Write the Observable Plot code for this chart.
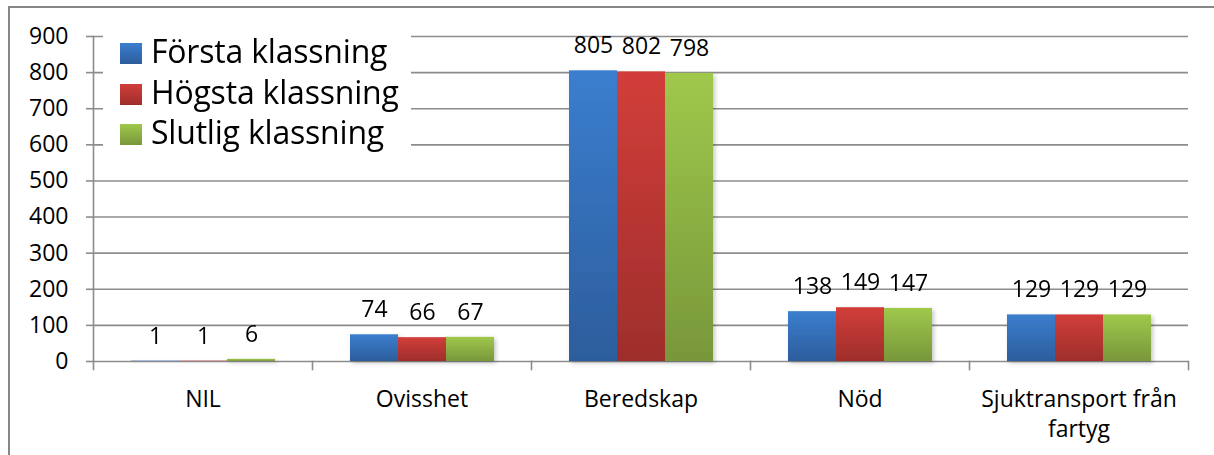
<!DOCTYPE html>
<html>
<head>
<meta charset="utf-8">
<script src="https://cdn.jsdelivr.net/npm/d3@7"></script>
<script src="https://cdn.jsdelivr.net/npm/@observablehq/plot@0.6"></script>
<style>
  html, body { margin: 0; padding: 0; background: #fff; }
  #wrap { position: relative; width: 1214px; height: 455px; overflow: hidden; font-family: 'Open Sans', sans-serif; }
  #frame { position: absolute; left: 8px; top: 6px; width: 1300px; height: 600px;
           border-left: 2px solid #878787; border-top: 2px solid #878787; pointer-events: none; z-index: 3; }
  #legend { position: absolute; left: 103px; top: 30px; width: 308px; height: 136px; background: #fff; z-index: 2; }
  .row { display: flex; align-items: center; height: 40.7px; }
  .sw { width: 22px; height: 21px; margin-left: 17px; margin-right: 9px; margin-top: 6px; }
  .lab { font-size: 32px; color: #000; white-space: nowrap; letter-spacing: -0.2px; }
</style>
</head>
<body>
<div id="wrap">
  <div id="frame"></div>
  <div id="legend"></div>
  <div id="chart"></div>
</div>
<script>
const categories = ["NIL", "Ovisshet", "Beredskap", "Nöd", "Sjuktransport från fartyg"];
const categoryLabels = ["NIL", "Ovisshet", "Beredskap", "Nöd", "Sjuktransport från\nfartyg"];
const series = ["Första klassning", "Högsta klassning", "Slutlig klassning"];
const forsta = [1, 74, 805, 138, 129];
const hogsta = [1, 66, 802, 149, 129];
const slutlig = [6, 67, 798, 147, 129];
const yTicks = [0, 100, 200, 300, 400, 500, 600, 700, 800, 900];

const gradTop = ["#3b7ecf", "#d23e3a", "#9fc84c"];
const gradBottom = ["#2c5d9c", "#9e2e2b", "#78973a"];

const valuesBySeries = [forsta, hogsta, slutlig];
const data = [];
categories.forEach((c, i) => {
  series.forEach((s, j) => data.push({category: c, series: s, value: valuesBySeries[j][i]}));
});

const W = 1214, H = 455, mT = 36, mB = 94, mL = 92, mR = 26;
const grey = "#8c8c8c";

const chart = Plot.plot({
  width: W, height: H,
  marginTop: mT, marginBottom: mB, marginLeft: mL, marginRight: mR,
  style: {fontFamily: "'Open Sans', sans-serif", fontSize: "23px", color: "#000", background: "transparent", overflow: "visible"},
  fx: {domain: categories, padding: 0, axis: null},
  x: {domain: series, paddingInner: 0, paddingOuter: 0.74, axis: null},
  y: {domain: [0, 900], axis: null},
  color: {domain: series, range: series.map((s, j) => `url(#grad${j})`)},
  marks: [
    Plot.gridY(yTicks, {stroke: grey, strokeOpacity: 1, strokeWidth: 1.6}),
    Plot.axisY(yTicks, {label: null, tickSize: 7, tickPadding: 18, stroke: grey, strokeOpacity: 1, strokeWidth: 1.6, fontSize: 23, tickFormat: d => String(d)}),
    Plot.frame({anchor: "left", facetAnchor: "left", stroke: grey, strokeWidth: 1.6, insetBottom: -8}),
    Plot.frame({anchor: "right", stroke: grey, strokeWidth: 1.6, insetTop: H - mT - mB, insetBottom: -8}),
    Plot.barY(data, {fx: "category", x: "series", y: "value", fill: "series"}),
    Plot.text(data, {fx: "category", x: "series", y: "value", text: d => String(d.value), dy: -25, fontSize: 23, lineAnchor: "middle", fill: "#000"}),
    Plot.text(categories, {fx: d => d, text: d => categoryLabels[categories.indexOf(d)], frameAnchor: "bottom", lineAnchor: "top", dy: 25, lineHeight: 1.28, fontSize: 23, fill: "#000"})
  ]
});

// gradients and shadow
const svgNS = "http://www.w3.org/2000/svg";
const defs = document.createElementNS(svgNS, "defs");
gradTop.forEach((t, j) => {
  const g = document.createElementNS(svgNS, "linearGradient");
  g.setAttribute("id", `grad${j}`);
  g.setAttribute("x1", "0"); g.setAttribute("y1", "0"); g.setAttribute("x2", "0"); g.setAttribute("y2", "1");
  const s1 = document.createElementNS(svgNS, "stop"); s1.setAttribute("offset", "0"); s1.setAttribute("stop-color", t);
  const s2 = document.createElementNS(svgNS, "stop"); s2.setAttribute("offset", "1"); s2.setAttribute("stop-color", gradBottom[j]);
  g.appendChild(s1); g.appendChild(s2); defs.appendChild(g);
});
const f = document.createElementNS(svgNS, "filter");
f.setAttribute("id", "shadow"); f.setAttribute("x", "-20%"); f.setAttribute("y", "-5%"); f.setAttribute("width", "140%"); f.setAttribute("height", "120%");
f.innerHTML = '<feDropShadow dx="2" dy="2" stdDeviation="2" flood-color="#000" flood-opacity="0.22"/>';
defs.appendChild(f);
chart.insertBefore(defs, chart.firstChild);
chart.querySelectorAll('g[aria-label="bar"]').forEach(g => g.setAttribute("filter", "url(#shadow)"));

document.getElementById("chart").appendChild(chart);

// legend
const legend = document.getElementById("legend");
series.forEach((s, j) => {
  const row = document.createElement("div");
  row.className = "row";
  const sw = document.createElement("div");
  sw.className = "sw";
  sw.style.background = `linear-gradient(${gradTop[j]}, ${gradBottom[j]})`;
  const lab = document.createElement("span");
  lab.className = "lab";
  lab.textContent = s;
  row.appendChild(sw); row.appendChild(lab);
  legend.appendChild(row);
});
</script>
</body>
</html>
